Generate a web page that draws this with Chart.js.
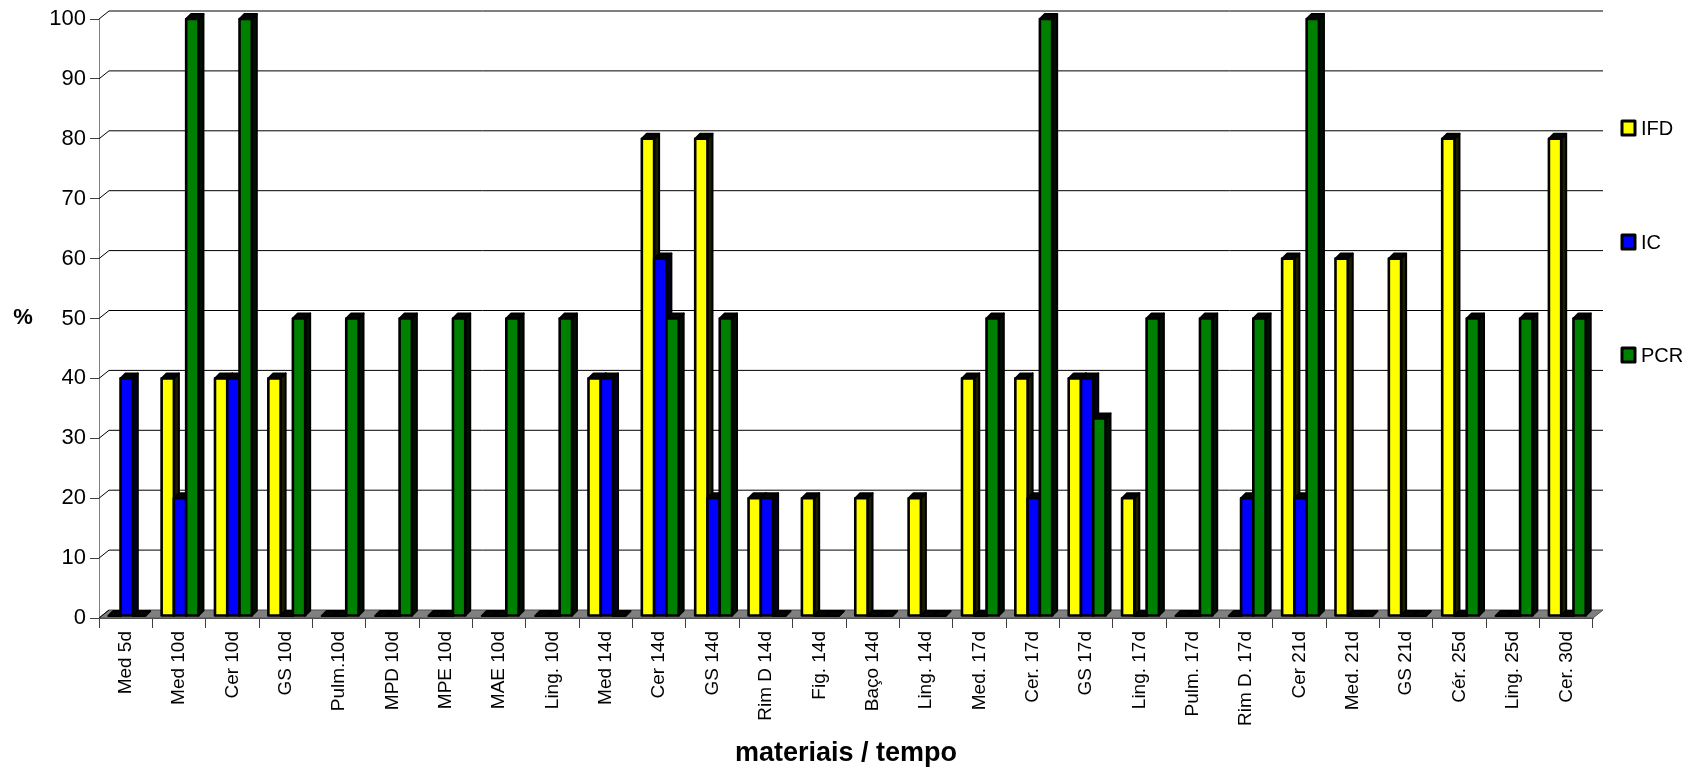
<!DOCTYPE html>
<html>
<head>
<meta charset="utf-8">
<script src="https://cdn.jsdelivr.net/npm/chart.js@4/dist/chart.umd.min.js"></script>
<style>
  html, body { margin: 0; padding: 0; background: #ffffff; }
  #wrap { width: 1702px; height: 769px; }
</style>
</head>
<body>
<div id="wrap"><canvas id="c" width="1702" height="769"></canvas></div>
<script>
// Categories: material / days
const categories = [
  'Med 5d', 'Med 10d', 'Cer 10d', 'GS 10d', 'Pulm.10d', 'MPD 10d', 'MPE 10d',
  'MAE 10d', 'Ling. 10d', 'Med 14d', 'Cer 14d', 'GS 14d', 'Rim D 14d', 'Fig. 14d',
  'Baço 14d', 'Ling. 14d', 'Med. 17d', 'Cer. 17d', 'GS 17d', 'Ling. 17d',
  'Pulm. 17d', 'Rim D. 17d', 'Cer 21d', 'Med. 21d', 'GS 21d', 'Cér. 25d',
  'Ling. 25d', 'Cer. 30d'
];

// Positive results (%) per method
const ifd = [0, 40, 40, 40, 0, 0, 0, 0, 0, 40, 80, 80, 20, 20, 20, 20, 40, 40, 40, 20, 0, 0, 60, 60, 60, 80, 0, 80];
const ic  = [40, 20, 40, 0, 0, 0, 0, 0, 0, 40, 60, 20, 20, 0, 0, 0, 0, 20, 40, 0, 0, 20, 20, 0, 0, 0, 0, 0];
const pcr = [0, 100, 100, 50, 50, 50, 50, 50, 50, 0, 50, 50, 0, 0, 0, 0, 50, 100, 33.3, 50, 50, 50, 100, 0, 0, 50, 50, 50];

const seriesNames = ['IFD', 'IC', 'PCR'];
const yTicks = [0, 10, 20, 30, 40, 50, 60, 70, 80, 90, 100];

const yTitle = '%';
const xTitle = 'materiais / tempo';

const FONT = "'Liberation Sans', Arial, sans-serif";
const colors = ['#ffff00', '#0000ff', '#008000'];
const sideColors = ['#1c1c00', '#00001c', '#001000'];

// Depth of the bars and of the back wall (pseudo 3D projection)
const BAR_DX = 5, BAR_DY = 5;
const WALL_DX = 10, WALL_DY = 8;

const pseudo3d = {
  id: 'pseudo3d',
  beforeDatasetsDraw(chart) {
    const ctx = chart.ctx;
    const y = chart.scales.y;
    const L = chart.chartArea.left, R = chart.chartArea.right;
    const base = y.getPixelForValue(0);
    ctx.save();
    // floor
    ctx.beginPath();
    ctx.moveTo(L, base);
    ctx.lineTo(R, base);
    ctx.lineTo(R + WALL_DX, base - WALL_DY);
    ctx.lineTo(L + WALL_DX, base - WALL_DY);
    ctx.closePath();
    ctx.fillStyle = '#808080';
    ctx.fill();
    ctx.strokeStyle = '#505050';
    ctx.lineWidth = 1;
    ctx.stroke();
    // back wall grid lines with their connectors to the front axis
    ctx.strokeStyle = '#000000';
    ctx.lineWidth = 1;
    yTicks.forEach(v => {
      const py = y.getPixelForValue(v);
      ctx.beginPath();
      ctx.moveTo(L, py);
      ctx.lineTo(L + WALL_DX, py - WALL_DY);
      if (v > 0) ctx.lineTo(R + WALL_DX, py - WALL_DY);
      ctx.stroke();
    });
    // bars, drawn category by category so the next bar covers the previous side
    const metas = chart.data.datasets.map((d, i) => chart.getDatasetMeta(i));
    ctx.lineJoin = 'round';
    for (let i = 0; i < categories.length; i++) {
      metas.forEach((meta, d) => {
        const el = meta.data[i];
        if (!el) return;
        const x0 = el.x - el.width / 2 + 1, x1 = el.x + el.width / 2 + 1;
        const top = el.y, bot = el.base - 2;
        const t = Math.min(top, bot);
        // side face
        ctx.beginPath();
        ctx.moveTo(x1, t);
        ctx.lineTo(x1 + BAR_DX, t - BAR_DY);
        ctx.lineTo(x1 + BAR_DX, bot - BAR_DY);
        ctx.lineTo(x1, bot);
        ctx.closePath();
        ctx.fillStyle = sideColors[d];
        ctx.fill();
        ctx.strokeStyle = '#000000';
        ctx.lineWidth = 2;
        ctx.stroke();
        // top face
        ctx.beginPath();
        ctx.moveTo(x0, t);
        ctx.lineTo(x0 + BAR_DX, t - BAR_DY);
        ctx.lineTo(x1 + BAR_DX, t - BAR_DY);
        ctx.lineTo(x1, t);
        ctx.closePath();
        ctx.fillStyle = '#050505';
        ctx.fill();
        ctx.stroke();
        // front face
        if (bot - t > 0.5) {
          ctx.fillStyle = colors[d];
          ctx.fillRect(x0, t, x1 - x0, bot - t);
          ctx.lineWidth = 2.6;
          ctx.strokeRect(x0, t, x1 - x0, bot - t);
        }
      });
    }
    ctx.restore();
    return false;
  },
  afterDraw(chart) {
    const ctx = chart.ctx;
    ctx.save();
    ctx.fillStyle = '#000000';
    // axis titles
    ctx.font = 'bold 22px ' + FONT;
    ctx.textAlign = 'center';
    ctx.textBaseline = 'middle';
    ctx.fillText(yTitle, 23, 318);
    ctx.font = 'bold 27px ' + FONT;
    ctx.textBaseline = 'alphabetic';
    ctx.fillText(xTitle, (chart.chartArea.left + chart.chartArea.right) / 2, 761);
    // legend
    const legendY = [128, 242, 355];
    ctx.font = '20px ' + FONT;
    ctx.textAlign = 'left';
    ctx.textBaseline = 'middle';
    ctx.lineJoin = 'round';
    seriesNames.forEach((name, i) => {
      const ly = legendY[i];
      ctx.fillStyle = colors[i];
      ctx.fillRect(1622, ly - 7, 13, 14);
      ctx.strokeStyle = '#000000';
      ctx.lineWidth = 3;
      ctx.strokeRect(1622, ly - 7, 13, 14);
      ctx.fillStyle = '#000000';
      ctx.fillText(name, 1641, ly + 1);
    });
    ctx.restore();
  }
};

const datasets = [ifd, ic, pcr].map((vals, i) => ({
  label: seriesNames[i],
  data: vals,
  backgroundColor: colors[i],
  borderColor: '#000000',
  borderWidth: 2,
  categoryPercentage: 0.69,
  barPercentage: 1.0
}));

new Chart(document.getElementById('c'), {
  type: 'bar',
  data: { labels: categories, datasets },
  plugins: [pseudo3d],
  options: {
    responsive: false,
    animation: false,
    events: [],
    layout: { padding: { left: 0, right: 109, top: 19, bottom: 0 } },
    plugins: { legend: { display: false }, tooltip: { enabled: false } },
    scales: {
      x: {
        grid: { drawOnChartArea: false, drawTicks: true, tickLength: 10, color: '#404040', offset: true },
        border: { display: true, color: '#505050' },
        ticks: {
          color: '#000000', font: { family: FONT, size: 19 },
          minRotation: 90, maxRotation: 90, padding: 3, autoSkip: false
        },
        afterFit(scale) { scale.height = 151; }
      },
      y: {
        min: 0, max: 100,
        afterBuildTicks(scale) { scale.ticks = yTicks.map(v => ({ value: v })); },
        grid: { drawOnChartArea: false, drawTicks: true, tickLength: 9, color: '#404040' },
        border: { display: true, color: '#808080' },
        ticks: { color: '#000000', font: { family: FONT, size: 22 }, padding: 4 },
        afterFit(scale) { scale.width = 99; }
      }
    }
  }
});
</script>
</body>
</html>
